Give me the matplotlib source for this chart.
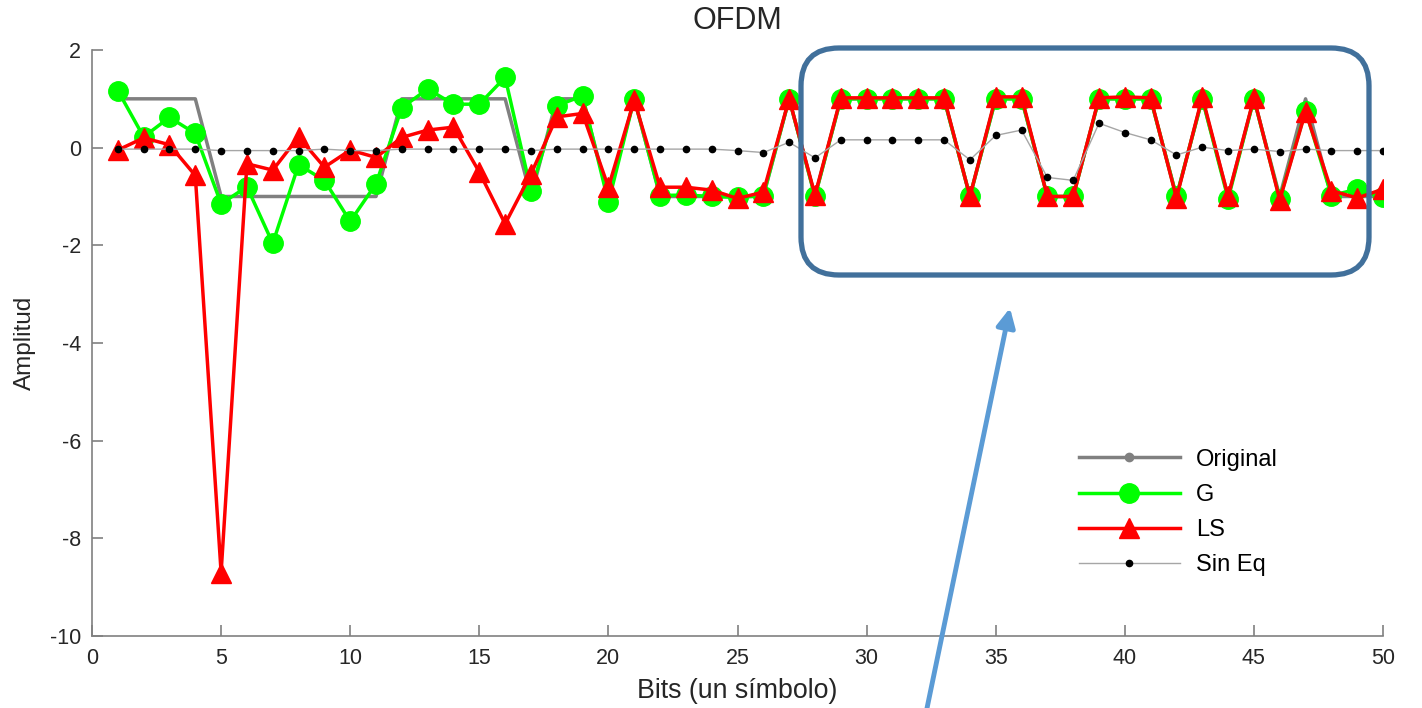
import numpy as np
import matplotlib
matplotlib.use('Agg')
import matplotlib.pyplot as plt
from matplotlib.lines import Line2D
from matplotlib.patches import FancyBboxPatch
from matplotlib.transforms import IdentityTransform

plt.rcParams['font.family'] = ['Liberation Sans', 'DejaVu Sans']
plt.rcParams['axes.unicode_minus'] = False

# Bits transmitidos y señales recibidas
bits = np.arange(1, 51)
original = [1, 1, 1, 1, -1, -1, -1, -1, -1, -1, -1, 1, 1, 1, 1, 1, -1, 1, 1, -1,
            1, -1, -1, -1, -1, -1, 1, -1, 1, 1, 1, 1, 1, -1, 1, 1, -1, -1, 1, 1,
            1, -1, 1, -1, 1, -1, 1, -1, -1, -1]
g_eq = [1.17, 0.22, 0.62, 0.29, -1.15, -0.80, -1.96, -0.35, -0.67, -1.51,
        -0.74, 0.82, 1.20, 0.89, 0.89, 1.44, -0.88, 0.86, 1.06, -1.12,
        1.00, -0.98, -0.97, -1.00, -1.02, -0.98, 1.00, -1.00, 1.00, 1.00,
        1.00, 1.00, 1.00, -1.00, 1.00, 1.00, -1.00, -1.00, 1.00, 1.00,
        1.00, -1.00, 1.00, -1.05, 1.00, -1.05, 0.76, -0.98, -0.85, -1.02]
ls_eq = [-0.05, 0.20, 0.06, -0.57, -8.70, -0.33, -0.46, 0.22, -0.40, -0.05,
         -0.20, 0.21, 0.36, 0.42, -0.50, -1.56, -0.54, 0.63, 0.70, -0.81,
         0.97, -0.81, -0.81, -0.87, -1.04, -0.91, 1.00, -0.97, 1.02, 1.02,
         1.02, 1.02, 1.02, -1.00, 1.04, 1.04, -1.00, -1.00, 1.02, 1.04,
         1.02, -1.03, 1.04, -1.00, 1.02, -1.07, 0.74, -0.88, -1.03, -0.85]
sin_eq = [-0.03, -0.03, -0.03, -0.03, -0.06, -0.06, -0.06, -0.06, -0.03, -0.06,
          -0.06, -0.03, -0.03, -0.03, -0.03, -0.03, -0.06, -0.03, -0.03, -0.03,
          -0.03, -0.03, -0.03, -0.03, -0.06, -0.10, 0.11, -0.21, 0.16, 0.16,
          0.16, 0.16, 0.16, -0.25, 0.25, 0.36, -0.61, -0.67, 0.50, 0.31,
          0.16, -0.15, 0.01, -0.06, -0.03, -0.08, -0.03, -0.06, -0.06, -0.06]

fig = plt.figure(figsize=(14.22, 7.08), dpi=100)
ax = fig.add_axes([0.0647, 0.1017, 0.9079, 0.8277])

ax.plot(bits, original, color='#808080', lw=2.5)
ax.plot(bits, g_eq, color='#00ff00', lw=2.5, marker='o', ms=14)
ax.plot(bits, ls_eq, color='#ff0000', lw=2.5, marker='^', ms=15)
ax.plot(bits, sin_eq, color='#a6a6a6', lw=1.0, marker='o', ms=4.5,
        markerfacecolor='black', markeredgecolor='black')

ax.set_xlim(0, 50)
ax.set_ylim(-10, 2)
ax.set_xticks(np.arange(0, 51, 5))
ax.set_yticks(np.arange(-10, 3, 2))
ax.spines['top'].set_visible(False)
ax.spines['right'].set_visible(False)
for s in ['left', 'bottom']:
    ax.spines[s].set_color('#808080')
    ax.spines[s].set_linewidth(1.2)
ax.tick_params(direction='in', length=8, width=1.2, color='#808080',
               labelcolor='#262626', labelsize=15.5)
ax.tick_params(axis='x', pad=9)
ax.tick_params(axis='y', pad=8)

ax.set_title('OFDM', fontsize=22, color='#262626', pad=15)
ax.set_xlabel('Bits (un símbolo)', fontsize=19.3, color='#262626', labelpad=6)
ax.set_ylabel('Amplitud', fontsize=17.5, color='#262626', labelpad=10)

# Leyenda con los marcadores de cada curva
handles = [
    Line2D([], [], color='#808080', lw=2.5, marker='.', ms=12, label='Original'),
    Line2D([], [], color='#00ff00', lw=2.5, marker='o', ms=14, label='G'),
    Line2D([], [], color='#ff0000', lw=2.5, marker='^', ms=15, label='LS'),
    Line2D([], [], color='#a6a6a6', lw=1.0, marker='o', ms=4.5,
           markerfacecolor='black', markeredgecolor='black', label='Sin Eq'),
]
ax.legend(handles=handles, loc='center left', bbox_to_anchor=(0.7436, 0.276),
          bbox_transform=fig.transFigure, frameon=False, fontsize=17,
          handlelength=4.3, labelspacing=0.56, handletextpad=0.68)

# Recuadro resaltando la zona ecualizada
box = FancyBboxPatch((801, 708 - 275), 568, 227,
                     boxstyle='round,pad=0,rounding_size=38',
                     transform=IdentityTransform(), fill=False,
                     edgecolor='#41709b', lw=3.8)
fig.add_artist(box)

# Flecha hacia el recuadro
ax.annotate('', xy=(1010, 708 - 308), xycoords='figure pixels',
            xytext=(926, -5), textcoords='figure pixels',
            arrowprops=dict(arrowstyle='-|>', color='#5b9bd5', lw=3.5,
                            mutation_scale=28, shrinkA=0, shrinkB=0),
            annotation_clip=False)

plt.savefig('out.png', dpi=100)
plt.close()
